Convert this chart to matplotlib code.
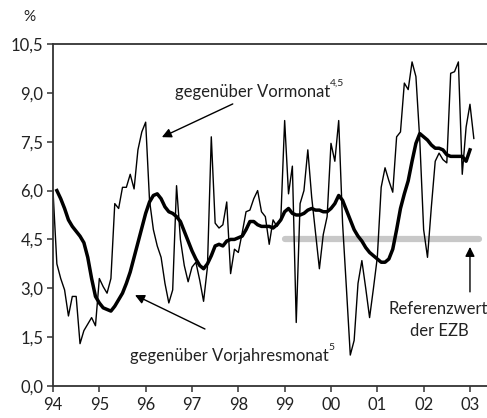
import numpy as np
import matplotlib
matplotlib.use("Agg")
import matplotlib.pyplot as plt

plt.rcParams['font.family'] = ['Lato', 'DejaVu Sans']

# Geldmenge M3, Veraenderung in %
# gegenueber Vormonat (annualisiert), monatlich ab Dez 1993
vormonat = [
    6.0, 3.75, 3.3, 2.95, 2.15, 2.75, 2.75, 1.3, 1.7, 1.9, 2.1, 1.85,
    3.3, 3.05, 2.85, 3.3, 5.6, 5.45, 6.1, 6.1, 6.5, 6.05, 7.25, 7.8,
    8.1, 5.7, 4.8, 4.3, 3.95, 3.15, 2.55, 2.95, 6.15, 4.5, 3.7, 3.2,
    3.65, 3.8, 3.25, 2.6, 3.65, 7.65, 5.0, 4.85, 4.95, 5.65, 3.45, 4.2,
    4.1, 4.7, 5.35, 5.4, 5.75, 6.0, 5.35, 5.2, 4.35, 5.1, 4.9, 5.1,
    8.15, 5.9, 6.75, 1.95, 5.6, 6.0, 7.25, 5.8, 4.7, 3.6, 4.65, 5.2,
    7.45, 6.9, 8.15, 5.0, 3.0, 0.95, 1.4, 3.15, 3.85, 3.0, 2.1, 3.0,
    3.95, 6.1, 6.7, 6.3, 5.95, 7.65, 7.8, 9.3, 9.1, 9.95, 9.5, 7.55,
    4.8, 3.95, 5.5, 6.9, 7.15, 6.95, 6.85, 9.6, 9.65, 9.95, 6.5, 7.95,
    8.65, 7.6,
]
vormonat_start = 94.0  # Dez 1993

# gegenueber Vorjahresmonat, monatlich Jan 1994 - Dez 2002
vorjahr = [
    6.0, 5.75, 5.45, 5.1, 4.9, 4.75, 4.6, 4.4, 3.95, 3.3, 2.75, 2.55,
    2.4, 2.35, 2.3, 2.45, 2.65, 2.85, 3.15, 3.5, 3.95, 4.4, 4.85, 5.3,
    5.65, 5.85, 5.9, 5.75, 5.5, 5.35, 5.3, 5.2, 5.05, 4.75, 4.45, 4.15,
    3.9, 3.7, 3.6, 3.75, 4.0, 4.3, 4.35, 4.3, 4.45, 4.5, 4.5, 4.55,
    4.6, 4.8, 5.05, 5.05, 4.95, 4.9, 4.9, 4.9, 4.85, 4.95, 5.1, 5.35,
    5.45, 5.3, 5.25, 5.25, 5.3, 5.4, 5.45, 5.4, 5.4, 5.35, 5.35, 5.45,
    5.6, 5.85, 5.7, 5.4, 5.1, 4.8, 4.6, 4.45, 4.25, 4.1, 4.0, 3.9,
    3.8, 3.8, 3.9, 4.2, 4.8, 5.45, 5.9, 6.3, 6.9, 7.45, 7.75, 7.65,
    7.55, 7.4, 7.3, 7.3, 7.25, 7.1, 7.05, 7.05, 7.05, 7.05, 6.9, 7.25,
]
vorjahr_start = 94.0 + 1 / 12  # Jan 1994

# Referenzwert der EZB
ref_value = 4.5
ref_from, ref_to = 99.0, 103.2

year_ticks = list(range(94, 104))
year_labels = ['94', '95', '96', '97', '98', '99', '00', '01', '02', '03']
y_ticks = [0.0, 1.5, 3.0, 4.5, 6.0, 7.5, 9.0, 10.5]
y_labels = ['0,0', '1,5', '3,0', '4,5', '6,0', '7,5', '9,0', '10,5']

t_mom = vormonat_start + np.arange(len(vormonat)) / 12
t_yoy = vorjahr_start + np.arange(len(vorjahr)) / 12

fig = plt.figure(figsize=(4.87, 4.18), dpi=100)
ax = fig.add_axes([53 / 487, 32 / 418, 1 - 53 / 487, 342 / 418])

ax.plot([ref_from, ref_to], [ref_value, ref_value], color='#c8c8c8', lw=4.5,
        solid_capstyle='round', zorder=1)
ax.plot(t_mom, vormonat, color='black', lw=1.0, zorder=2)
ax.plot(t_yoy, vorjahr, color='black', lw=2.5, zorder=3)

ax.set_xlim(94, 94 + 434 / 46.33)
ax.set_ylim(0, 10.5)
ax.set_xticks(year_ticks)
ax.set_xticklabels(year_labels)
ax.set_yticks(y_ticks)
ax.set_yticklabels(y_labels)

for side in ['left', 'bottom', 'top']:
    ax.spines[side].set_color('#333333')
    ax.spines[side].set_linewidth(1.3)
ax.spines['right'].set_visible(False)
ax.tick_params(axis='both', direction='out', length=4, width=1.1,
               color='#333333', labelcolor='#222222', labelsize=12)
ax.tick_params(axis='y', pad=3)
ax.tick_params(axis='x', pad=4)

fig.text(29 / 487, 1 - 17 / 418, '%', ha='center', va='center',
         fontsize=11, color='#222222')

txt_kw = dict(fontsize=12, color='#222222')
arrow_kw = dict(arrowstyle='-|>', color='black', lw=1.0, mutation_scale=14,
                shrinkA=0, shrinkB=0)

t1 = ax.text(96.63, 9.03, 'gegenüber Vormonat', ha='left', va='center', **txt_kw)
ax.annotate('4,5', xy=(1.0, 0.75), xycoords=t1, ha='left', va='bottom',
            fontsize=7.5, color='#222222')
ax.annotate('', xy=(96.35, 7.64), xytext=(97.88, 8.66), arrowprops=arrow_kw)

t2 = ax.text(95.66, 0.92, 'gegenüber Vorjahresmonat', ha='left', va='center',
             **txt_kw)
ax.annotate('5', xy=(1.0, 0.75), xycoords=t2, ha='left', va='bottom',
            fontsize=7.5, color='#222222')
ax.annotate('', xy=(95.77, 2.79), xytext=(97.28, 1.75), arrowprops=arrow_kw)

ax.text(102.31, 2.36, 'Referenzwert', ha='center', va='center',
        clip_on=False, **txt_kw)
ax.text(102.35, 1.69, 'der EZB', ha='center', va='center', **txt_kw)
ax.annotate('', xy=(103.0, 4.27), xytext=(103.0, 2.89), arrowprops=arrow_kw)

fig.savefig('out.png', dpi=100)
